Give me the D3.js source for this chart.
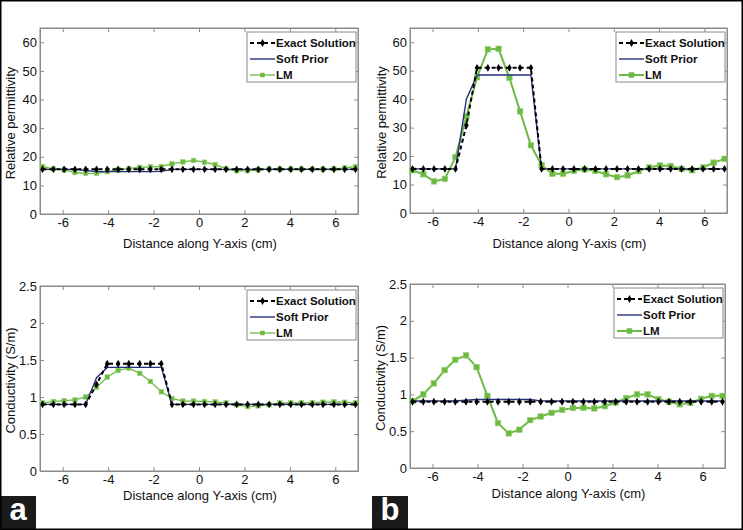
<!DOCTYPE html>
<html>
<head>
<meta charset="utf-8">
<script src="https://cdn.jsdelivr.net/npm/d3@7"></script>
<style>
body{margin:0;background:#fff;}
svg{display:block;font-family:"Liberation Sans",Arial,sans-serif;}
</style>
</head>
<body>
<div class="chart"></div>
<script>
// sample positions along Y-axis (cm)
const xs = [-6.89,-6.41,-5.94,-5.46,-4.99,-4.51,-4.04,-3.56,-3.09,-2.61,-2.14,-1.66,-1.19,-0.71,-0.24,
            0.24,0.71,1.19,1.66,2.14,2.61,3.09,3.56,4.04,4.51,4.99,5.46,5.94,6.41,6.89];
const xTicks = [-6,-4,-2,0,2,4,6];
const epsTicks = [0,10,20,30,40,50,60];
const sigTicks = [0,0.5,1,1.5,2,2.5];
const seriesNames = ['Exact Solution','Soft Prior','LM'];

// (a) relative permittivity
const epsExactA = [15.6,15.6,15.6,15.6,15.6,15.6,15.6,15.6,15.6,15.6,15.6,15.6,15.6,15.6,15.6,
                   15.6,15.6,15.6,15.6,15.6,15.6,15.6,15.6,15.6,15.6,15.6,15.6,15.6,15.6,15.6];
const epsSoftA = [15.6,15.6,15.6,15.6,15.2,14.8,14.8,14.8,14.8,14.8,14.8,14.9,15.6,15.6,15.6,
                  15.6,15.6,15.6,15.6,15.6,15.6,15.6,15.6,15.6,15.6,15.6,15.6,15.6,15.6,15.6];
const epsLmA = [16.6,15.8,15.4,14.5,14.2,14.2,14.8,15.4,15.9,16.3,16.5,16.6,17.5,18.2,18.7,
                18.1,17.3,15.8,15.1,15.1,15.4,15.7,15.7,15.7,15.7,15.7,15.7,15.8,16.1,16.6];
// (b) relative permittivity
const epsExactB = [15.5,15.5,15.5,15.5,15.5,30.8,51,51,51,51,51,51,15.5,15.5,15.5,
                   15.5,15.5,15.5,15.5,15.5,15.5,15.5,15.5,15.5,15.5,15.5,15.5,15.5,15.5,15.5];
const epsSoftB = [15.5,15.5,15.5,15.5,15.5,40,48.5,48.5,48.5,48.5,48.5,48.5,15.5,15.5,15.5,
                  15.5,15.5,15.5,15.5,15.5,15.5,15.5,15.5,15.5,15.5,15.5,15.5,15.5,15.5,15.5];
const epsLmB = [15.0,13.6,11.1,12.0,19.6,34.0,47.7,57.5,57.7,47.5,35.7,23.8,16.8,13.8,13.8,
                14.8,15.3,14.8,13.6,12.6,13.2,14.7,16.0,16.7,16.5,15.5,15.0,16.0,17.7,19.0];
// (a) conductivity
const sigExactA = [0.9,0.9,0.9,0.9,0.9,1.17,1.45,1.45,1.45,1.45,1.45,1.45,0.9,0.9,0.9,
                   0.9,0.9,0.9,0.9,0.9,0.9,0.9,0.9,0.9,0.9,0.9,0.9,0.9,0.9,0.9];
const sigSoftA = [0.9,0.9,0.9,0.9,0.9,1.26,1.4,1.4,1.4,1.4,1.4,1.4,0.9,0.9,0.9,
                  0.9,0.9,0.9,0.9,0.9,0.9,0.9,0.9,0.9,0.9,0.9,0.9,0.9,0.9,0.9];
const sigLmA = [0.92,0.94,0.95,0.96,1.0,1.13,1.27,1.36,1.39,1.32,1.21,1.07,0.98,0.945,0.945,
                0.94,0.935,0.92,0.895,0.87,0.88,0.895,0.92,0.92,0.92,0.925,0.93,0.935,0.93,0.92];
// (b) conductivity
const sigExactB = [0.9,0.9,0.9,0.9,0.9,0.9,0.9,0.9,0.9,0.9,0.9,0.9,0.9,0.9,0.9,
                   0.9,0.9,0.9,0.9,0.9,0.9,0.9,0.9,0.9,0.9,0.9,0.9,0.9,0.9,0.9];
const sigSoftB = [0.91,0.91,0.91,0.91,0.91,0.92,0.93,0.93,0.93,0.93,0.93,0.93,0.91,0.91,0.91,
                  0.91,0.91,0.91,0.91,0.91,0.91,0.91,0.91,0.91,0.91,0.91,0.91,0.91,0.91,0.91];
const sigLmB = [0.91,1.0,1.15,1.33,1.47,1.53,1.37,0.98,0.61,0.47,0.52,0.65,0.70,0.75,0.79,
                0.815,0.82,0.81,0.84,0.89,0.95,1.0,1.0,0.935,0.90,0.865,0.885,0.94,0.98,0.98];

const W = 743, H = 530;
const green = '#6cb943', navy = '#24307e', gray = '#8a8a8a';

const svg = d3.select('.chart')
    .append('svg')
    .attr('width', W)
    .attr('height', H);

svg.append('rect').attr('width', W).attr('height', H).attr('fill', '#fff');

function drawPanel(p){
    const x = d3.scaleLinear().domain([-7,7]).range([p.left, p.right]);
    const y = d3.scaleLinear().domain(p.yDomain).range([p.bottom, p.top]);
    const g = svg.append('g');
    const fmt = d => String(d);

    // box axes, ticks pointing inward like matlab
    g.append('g').attr('class','axis')
        .attr('transform', `translate(0,${p.bottom})`)
        .call(d3.axisBottom(x).tickValues(xTicks).tickSizeInner(-4).tickSizeOuter(0).tickPadding(4).tickFormat(fmt));
    g.append('g').attr('class','axis')
        .attr('transform', `translate(0,${p.top})`)
        .call(d3.axisTop(x).tickValues(xTicks).tickSizeInner(-4).tickSizeOuter(0).tickFormat(''));
    g.append('g').attr('class','axis')
        .attr('transform', `translate(${p.left},0)`)
        .call(d3.axisLeft(y).tickValues(p.yTicks).tickSizeInner(-4).tickSizeOuter(0).tickPadding(3).tickFormat(fmt));
    g.append('g').attr('class','axis')
        .attr('transform', `translate(${p.right},0)`)
        .call(d3.axisRight(y).tickValues(p.yTicks).tickSizeInner(-4).tickSizeOuter(0).tickFormat(''));

    g.selectAll('.axis path, .axis line').attr('stroke', gray).attr('stroke-width', 1);
    g.selectAll('.axis text').attr('fill', '#111').attr('font-size', 13);

    g.append('rect')
        .attr('x', p.left).attr('y', p.top)
        .attr('width', p.right - p.left).attr('height', p.bottom - p.top)
        .attr('fill', 'none').attr('stroke', gray);

    const line = d3.line().x((d,i) => x(xs[i])).y(d => y(d));

    // LM
    g.append('path').datum(p.lm)
        .attr('d', line).attr('fill','none')
        .attr('stroke', green).attr('stroke-width', p.lmWidth);
    g.selectAll('.lm').data(p.lm).enter().append('rect')
        .attr('x', (d,i) => x(xs[i]) - p.sq/2)
        .attr('y', d => y(d) - p.sq/2)
        .attr('width', p.sq).attr('height', p.sq)
        .attr('fill', green).attr('stroke', '#8fd06a').attr('stroke-width', 0.6);

    // soft prior
    g.append('path').datum(p.soft)
        .attr('d', line).attr('fill','none')
        .attr('stroke', navy).attr('stroke-width', 1.4);

    // exact solution
    g.append('path').datum(p.exact)
        .attr('d', line).attr('fill','none')
        .attr('stroke', '#000').attr('stroke-width', 2).attr('stroke-dasharray', '4,3');
    g.selectAll('.ex').data(p.exact).enter().append('path')
        .attr('transform', (d,i) => `translate(${x(xs[i])},${y(d)})`)
        .attr('d', d3.symbol(d3.symbolDiamond, 18))
        .attr('fill', '#000');

    // legend
    const lx = p.right - 111, ly = p.top + 4;
    const lg = g.append('g').attr('transform', `translate(${lx},${ly})`);
    lg.append('rect').attr('width', 109).attr('height', 50)
        .attr('fill', '#fff').attr('stroke', gray);
    seriesNames.forEach((name, i) => {
        const ry = 11 + i*16;
        const ln = lg.append('line').attr('x1', 3).attr('x2', 28).attr('y1', ry).attr('y2', ry);
        if (i === 0){
            ln.attr('stroke', '#000').attr('stroke-width', 2).attr('stroke-dasharray', '4,3');
            lg.append('path').attr('transform', `translate(15.5,${ry})`)
                .attr('d', d3.symbol(d3.symbolDiamond, 18)).attr('fill', '#000');
        } else if (i === 1){
            ln.attr('stroke', navy).attr('stroke-width', 1.4);
        } else {
            ln.attr('stroke', green).attr('stroke-width', p.lmWidth);
            lg.append('rect').attr('x', 15.5 - p.sq/2).attr('y', ry - p.sq/2)
                .attr('width', p.sq).attr('height', p.sq).attr('fill', green);
        }
        lg.append('text').attr('x', 29).attr('y', ry).attr('dy', '0.36em')
            .attr('font-size', 11.5).attr('font-weight', 'bold').attr('fill', '#111')
            .text(name);
    });

    // axis titles
    g.append('text')
        .attr('x', (p.left + p.right)/2 + 1).attr('y', p.xLabelY).attr('dy', '0.35em')
        .attr('text-anchor', 'middle').attr('font-size', 13).attr('fill', '#111')
        .text('Distance along Y-axis (cm)');
    g.append('text')
        .attr('transform', `translate(${p.yLabelX},${(p.top + p.bottom)/2 + 2}) rotate(-90)`)
        .attr('dy', '0.35em')
        .attr('text-anchor', 'middle').attr('font-size', 13).attr('fill', '#111')
        .text(p.yLabel);
}

drawPanel({left:40, right:358, top:28, bottom:214, yDomain:[0,65], yTicks:epsTicks,
    yLabel:'Relative permittivity', xLabelY:243, yLabelX:10,
    exact:epsExactA, soft:epsSoftA, lm:epsLmA, lmWidth:1.3, sq:4.5});
drawPanel({left:410, right:727, top:28, bottom:213, yDomain:[0,65], yTicks:epsTicks,
    yLabel:'Relative permittivity', xLabelY:243, yLabelX:381,
    exact:epsExactB, soft:epsSoftB, lm:epsLmB, lmWidth:2, sq:5.5});
drawPanel({left:40, right:358, top:286, bottom:471, yDomain:[0,2.5], yTicks:sigTicks,
    yLabel:'Conductivity (S/m)', xLabelY:495, yLabelX:10,
    exact:sigExactA, soft:sigSoftA, lm:sigLmA, lmWidth:1.3, sq:4.5});
drawPanel({left:410, right:725, top:284, bottom:468, yDomain:[0,2.5], yTicks:sigTicks,
    yLabel:'Conductivity (S/m)', xLabelY:493, yLabelX:380,
    exact:sigExactB, soft:sigSoftB, lm:sigLmB, lmWidth:2, sq:5.5});

// panel letters
[['a',0],['b',372]].forEach(([t, bx]) => {
    svg.append('rect').attr('x', bx).attr('y', 496).attr('width', 36).attr('height', 34).attr('fill', '#1a1a1a');
    svg.append('text').attr('x', bx + 18).attr('y', 520)
        .attr('text-anchor', 'middle').attr('font-size', 31).attr('font-weight', 'bold')
        .attr('fill', '#fff').text(t);
});

// outer frame
svg.append('rect').attr('x', 0.75).attr('y', 0.75).attr('width', W - 1.5).attr('height', H - 1.5)
    .attr('fill', 'none').attr('stroke', '#000').attr('stroke-width', 1.5);
</script>
</body>
</html>
